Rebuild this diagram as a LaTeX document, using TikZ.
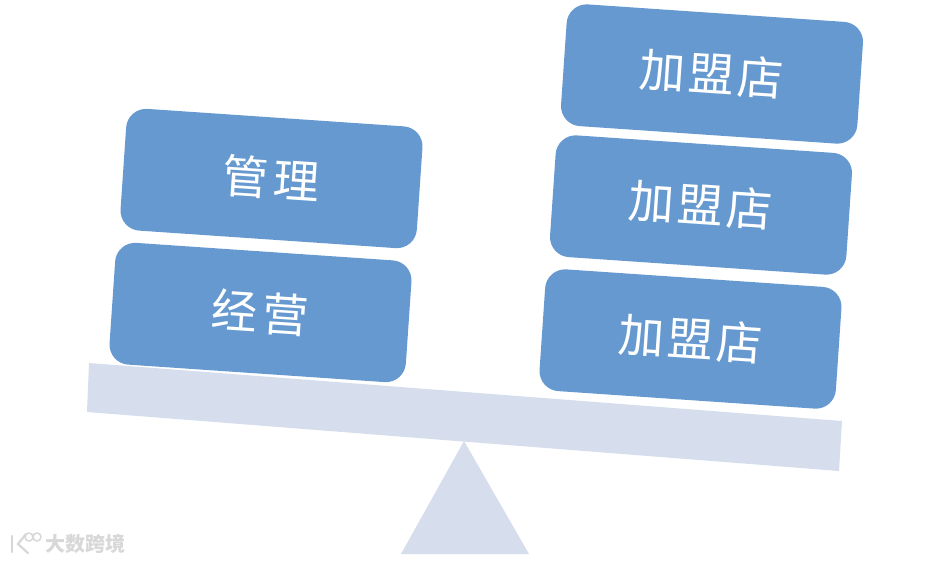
\documentclass[tikz,border=0pt]{standalone}
\usepackage{fontspec}
\newfontfamily\cjk{Noto Sans CJK SC}
\definecolor{boxblue}{HTML}{6699CF}
\definecolor{beamblue}{HTML}{D6DEEE}
\definecolor{markgrey}{HTML}{D8D8D8}
\tikzset{
  weight/.style={fill=boxblue,draw=none,rounded corners=20pt,minimum width=297pt,minimum height=122pt,
    rotate=-3.9,text=white,font=\cjk\fontsize{46}{46}\selectfont,inner sep=0pt},
  support/.style={fill=beamblue,draw=none},
  markring/.style={draw=markgrey,line width=1.5pt,fill=white}
}
\begin{document}
\begin{tikzpicture}[x=1pt,y=-1pt]
\useasboundingbox[fill=white] (0,0) rectangle (952,562);
\fill[support] (89,363) -- (842,421) -- (839,471) -- (87,412) -- cycle;
\fill[support] (464,441) -- (529,554) -- (401,554) -- cycle;
\node[weight] (guanli) at (271.5,178.5) {\raisebox{-2pt}{管\hspace{5pt}理}};
\node[weight] (jingying) at (260.5,312.5) {\raisebox{-2pt}{经\hspace{5pt}营}};
\node[weight] (store1) at (712,74) {\raisebox{-2pt}{加\hspace{3pt}盟\hspace{3pt}店}};
\node[weight] (store2) at (701,205) {\raisebox{-2pt}{加\hspace{3pt}盟\hspace{3pt}店}};
\node[weight] (store3) at (690.5,339) {\raisebox{-2pt}{加\hspace{3pt}盟\hspace{3pt}店}};
\node[text=markgrey,font=\cjk\bfseries\fontsize{20}{20}\selectfont,inner sep=0pt] (mark) at (85.5,544) {大数跨境};
\draw[markring] (29,537) circle (4pt);
\draw[markring] (37,537) circle (4pt);
\draw[markgrey,line width=2.2pt,line cap=round] (12,536) -- (12,552);
\draw[markgrey,line width=2.2pt,line cap=round] (26,534) -- (18,544) -- (28,553);
\end{tikzpicture}
\end{document}
